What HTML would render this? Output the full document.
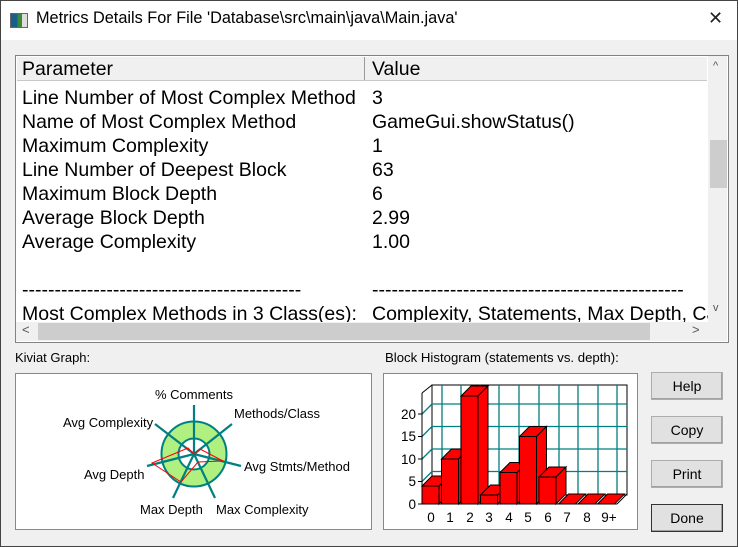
<!DOCTYPE html>
<html><head><meta charset="utf-8"><style>
body{margin:0;width:738px;height:547px;overflow:hidden;font-family:"Liberation Sans",Arial,sans-serif;background:#f0f0f0;position:relative}
.a{position:absolute;white-space:nowrap}
.t{font-size:19.5px;color:#000}
.btn{position:absolute;left:651px;width:70px;height:26px;background:#e1e1e1;border:1px solid #adadad;box-shadow:inset -1px -1px 0 #a0a0a0;font-size:14px;text-align:center;line-height:26px}
</style></head><body>
<div class="a" style="left:0;top:0;width:736px;height:545px;border:1px solid #444"></div>
<div class="a" style="left:1px;top:1px;width:736px;height:39px;background:#fff"></div>
<div class="a" style="left:10px;top:13px;width:16px;height:13px;background:linear-gradient(90deg,#1a5e8a 0 40%,#3a8a3a 40% 70%,#ddd 70%);border:1px solid #666"></div>
<div class="a" style="left:36px;top:9px;font-size:16.3px">Metrics Details For File 'Database\src\main\java\Main.java'</div>
<div class="a" style="left:708px;top:8px;font-size:18px;font-weight:100;color:#222">✕</div>

<div class="a" style="left:15px;top:55px;width:712px;height:286px;background:#fff;border:1px solid #828282"></div>
<div class="a" style="left:17px;top:57px;width:690px;height:23px;background:#f0f0f0;border-bottom:1px solid #c8c8c8"></div>
<div class="a" style="left:364px;top:57px;width:1px;height:23px;background:#999"></div>
<div class="a t" style="left:22px;top:58px">Parameter</div>
<div class="a t" style="left:372px;top:58px">Value</div>
<div class="a t" style="left:22px;top:86px;line-height:24px">Line Number of Most Complex Method<br>Name of Most Complex Method<br>Maximum Complexity<br>Line Number of Deepest Block<br>Maximum Block Depth<br>Average Block Depth<br>Average Complexity<br>&nbsp;<br>-------------------------------------------<br>Most Complex Methods in 3 Class(es):</div>
<div class="a t" style="left:372px;top:86px;line-height:24px;width:336px;overflow:hidden">3<br>GameGui.showStatus()<br>1<br>63<br>6<br>2.99<br>1.00<br>&nbsp;<br>------------------------------------------------<br>Complexity, Statements, Max Depth, Calls</div>
<div class="a" style="left:16px;top:322px;width:692px;height:19px;background:#f0f0f0"></div>
<div class="a" style="left:708px;top:56px;width:19px;height:285px;background:#f0f0f0"></div>
<div class="a" style="left:710px;top:140px;width:17px;height:48px;background:#cdcdcd"></div>
<div class="a" style="left:713px;top:60px;font-size:11px;color:#555">^</div>
<div class="a" style="left:713px;top:302px;font-size:11px;color:#555">v</div>
<div class="a" style="left:38px;top:323px;width:612px;height:17px;background:#cdcdcd"></div>
<div class="a" style="left:22px;top:322px;font-size:13px;color:#555">&lt;</div>
<div class="a" style="left:692px;top:322px;font-size:13px;color:#555">&gt;</div>

<div class="a" style="left:15px;top:350px;font-size:13px">Kiviat Graph:</div>
<div class="a" style="left:385px;top:350px;font-size:13.2px">Block Histogram (statements vs. depth):</div>

<svg class="a" style="left:0;top:0" width="738" height="547">
<rect x="15.5" y="373.5" width="356" height="156" fill="#fff" stroke="#888"/>
<rect x="383.5" y="373.5" width="254" height="156" fill="#fff" stroke="#888"/>
<circle cx="194" cy="454" r="24" fill="none" stroke="#b0f080" stroke-width="17"/>
<circle cx="194" cy="454" r="32.5" fill="none" stroke="#008080" stroke-width="2"/>
<circle cx="194" cy="454" r="15.5" fill="none" stroke="#008080" stroke-width="2"/>
<g stroke="#008080" stroke-width="2.2">
<line x1="194" y1="454" x2="194" y2="405"/><line x1="194" y1="454" x2="232" y2="424"/><line x1="194" y1="454" x2="241" y2="466"/><line x1="194" y1="454" x2="215" y2="498"/><line x1="194" y1="454" x2="173" y2="498"/><line x1="194" y1="454" x2="147" y2="466"/><line x1="194" y1="454" x2="155" y2="424"/></g>
<polygon points="194,454 200,449 223,461 198,462 181,482 152,463 188,448" fill="none" stroke="#f00" stroke-width="1"/>
<g font-size="13" fill="#000">
<text x="194" y="399" text-anchor="middle">% Comments</text>
<text x="234" y="418">Methods/Class</text>
<text x="244" y="471">Avg Stmts/Method</text>
<text x="216" y="514">Max Complexity</text>
<text x="140" y="514">Max Depth</text>
<text x="84" y="479">Avg Depth</text>
<text x="63" y="427">Avg Complexity</text></g>

<rect x="432" y="385" width="195" height="110" fill="#fff" stroke="#000"/>
<g stroke="#008080" stroke-width="1.3">
<line x1="442" y1="385" x2="442" y2="494"/><line x1="461" y1="385" x2="461" y2="494"/><line x1="480" y1="385" x2="480" y2="494"/><line x1="499" y1="385" x2="499" y2="494"/><line x1="519" y1="385" x2="519" y2="494"/><line x1="539" y1="385" x2="539" y2="494"/><line x1="559" y1="385" x2="559" y2="494"/><line x1="578" y1="385" x2="578" y2="494"/><line x1="598" y1="385" x2="598" y2="494"/><line x1="617" y1="385" x2="617" y2="494"/>
<line x1="432" y1="404" x2="627" y2="404"/><line x1="432" y1="426.5" x2="627" y2="426.5"/><line x1="432" y1="449" x2="627" y2="449"/><line x1="432" y1="471.5" x2="627" y2="471.5"/>
<line x1="422" y1="414" x2="432" y2="404"/><line x1="422" y1="436.5" x2="432" y2="426.5"/><line x1="422" y1="459" x2="432" y2="449"/><line x1="422" y1="481.5" x2="432" y2="471.5"/></g>
<g stroke="#000" stroke-width="1"><line x1="422" y1="393" x2="432" y2="385"/><line x1="422" y1="393" x2="422" y2="504"/><line x1="422" y1="504" x2="617" y2="504"/><line x1="617" y1="504" x2="627" y2="494"/>
<line x1="418" y1="504" x2="422" y2="504"/><line x1="418" y1="481.5" x2="422" y2="481.5"/><line x1="418" y1="459" x2="422" y2="459"/><line x1="418" y1="436.5" x2="422" y2="436.5"/><line x1="418" y1="414" x2="422" y2="414"/></g>
<g fill="#f00" stroke="#000" stroke-width="1">
<rect x="422" y="486" width="17" height="18"/><polygon points="422,486 432,476 449,476 439,486"/><polygon points="439,486 449,476 449,494 439,504"/>
<rect x="441.5" y="459" width="17" height="45"/><polygon points="441.5,459 451.5,449 468.5,449 458.5,459"/><polygon points="458.5,459 468.5,449 468.5,494 458.5,504"/>
<rect x="461" y="396" width="17" height="108"/><polygon points="461,396 471,386 488,386 478,396"/><polygon points="478,396 488,386 488,494 478,504"/>
<rect x="480.5" y="495" width="17" height="9"/><polygon points="480.5,495 490.5,485 507.5,485 497.5,495"/><polygon points="497.5,495 507.5,485 507.5,494 497.5,504"/>
<rect x="500" y="472.5" width="17" height="31.5"/><polygon points="500,472.5 510,462.5 527,462.5 517,472.5"/><polygon points="517,472.5 527,462.5 527,494 517,504"/>
<rect x="519.5" y="436.5" width="17" height="67.5"/><polygon points="519.5,436.5 529.5,426.5 546.5,426.5 536.5,436.5"/><polygon points="536.5,436.5 546.5,426.5 546.5,494 536.5,504"/>
<rect x="539" y="477" width="17" height="27"/><polygon points="539,477 549,467 566,467 556,477"/><polygon points="556,477 566,467 566,494 556,504"/>
<polygon points="558.5,504 568.5,494 585.5,494 575.5,504"/>
<polygon points="578,504 588,494 605,494 595,504"/>
<polygon points="597.5,504 607.5,494 624.5,494 614.5,504"/></g>
<g font-size="13.5" text-anchor="end"><text x="416" y="509">0</text><text x="416" y="486">5</text><text x="416" y="464">10</text><text x="416" y="441">15</text><text x="416" y="419">20</text></g>
<g font-size="13.5" text-anchor="middle"><text x="431" y="522">0</text><text x="450" y="522">1</text><text x="470" y="522">2</text><text x="489" y="522">3</text><text x="509" y="522">4</text><text x="528" y="522">5</text><text x="548" y="522">6</text><text x="567" y="522">7</text><text x="587" y="522">8</text><text x="609" y="522">9+</text></g>
</svg>
<div class="btn" style="top:372px">Help</div>
<div class="btn" style="top:416px">Copy</div>
<div class="btn" style="top:460px">Print</div>
<div class="btn" style="top:504px;border:1px solid #333">Done</div>
</body></html>
